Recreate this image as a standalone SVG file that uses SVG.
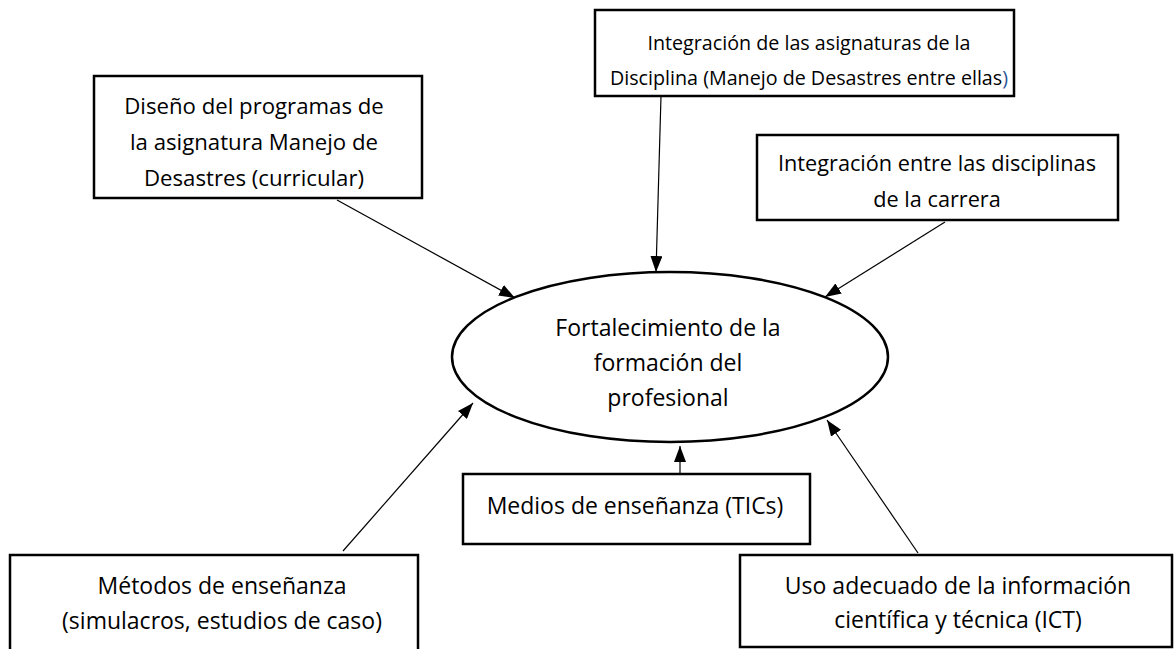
<svg xmlns="http://www.w3.org/2000/svg" width="1174" height="649" viewBox="0 0 1174 649">
<style>
.box{fill:#fff;stroke:#000;stroke-width:2.5}
.ell{fill:#fff;stroke:#000;stroke-width:2.5}
.t{font-family:"Open Sans","Liberation Sans",sans-serif;font-size:23px;fill:#000;text-anchor:middle;dominant-baseline:central}
.c{stroke:#000;stroke-width:1.2;fill:none;marker-end:url(#ah)}
</style>
<defs>
<marker id="ah" markerWidth="16" markerHeight="12" refX="16" refY="6" orient="auto" markerUnits="userSpaceOnUse">
<path d="M0,0 L16,6 L0,12 Z" fill="#000"/>
</marker>
</defs>
<rect width="1174" height="649" fill="#fff"/>
<g id="connectors">
<line class="c" x1="337" y1="200" x2="515" y2="298"/>
<line class="c" x1="661" y1="96" x2="656" y2="272"/>
<line class="c" x1="945" y1="222" x2="825" y2="297"/>
<line class="c" x1="343" y1="551" x2="473" y2="403"/>
<line class="c" x1="680" y1="474" x2="680" y2="446"/>
<line class="c" x1="918" y1="553" x2="827" y2="420"/>
</g>
<g id="center">
<ellipse class="ell" cx="670" cy="357" rx="218" ry="85"/>
<text class="t" x="668" y="327">Fortalecimiento de la</text>
<text class="t" x="668" y="362">formación del</text>
<text class="t" x="668" y="397">profesional</text>
</g>
<g id="diseno">
<rect class="box" x="94" y="76" width="328" height="122"/>
<text class="t" x="254" y="105" style="font-size:22.2px">Diseño del programas de</text>
<text class="t" x="254" y="141" style="font-size:22.2px">la asignatura Manejo de</text>
<text class="t" x="254" y="177" style="font-size:22.2px">Desastres (curricular)</text>
</g>
<g id="integracion-asignaturas">
<rect class="box" x="595" y="10" width="419" height="86"/>
<text class="t" x="809" y="42" style="font-size:19.7px">Integración de las asignaturas de la</text>
<text class="t" x="809" y="77" style="font-size:19.7px">Disciplina (Manejo de Desastres entre ellas<tspan fill="#2e5597">)</tspan></text>
</g>
<g id="integracion-disciplinas">
<rect class="box" x="757" y="135" width="361" height="85"/>
<text class="t" x="937" y="162" style="font-size:21.7px">Integración entre las disciplinas</text>
<text class="t" x="937" y="198" style="font-size:21.7px">de la carrera</text>
</g>
<g id="medios">
<rect class="box" x="463" y="474" width="347" height="70"/>
<text class="t" x="635" y="505">Medios de enseñanza (TICs)</text>
</g>
<g id="metodos">
<rect class="box" x="10" y="555" width="408" height="100"/>
<text class="t" x="222" y="585">Métodos de enseñanza</text>
<text class="t" x="222" y="620">(simulacros, estudios de caso)</text>
</g>
<g id="uso">
<rect class="box" x="740" y="555" width="432" height="92"/>
<text class="t" x="958" y="585">Uso adecuado de la información</text>
<text class="t" x="958" y="619">científica y técnica (ICT)</text>
</g>
</svg>
